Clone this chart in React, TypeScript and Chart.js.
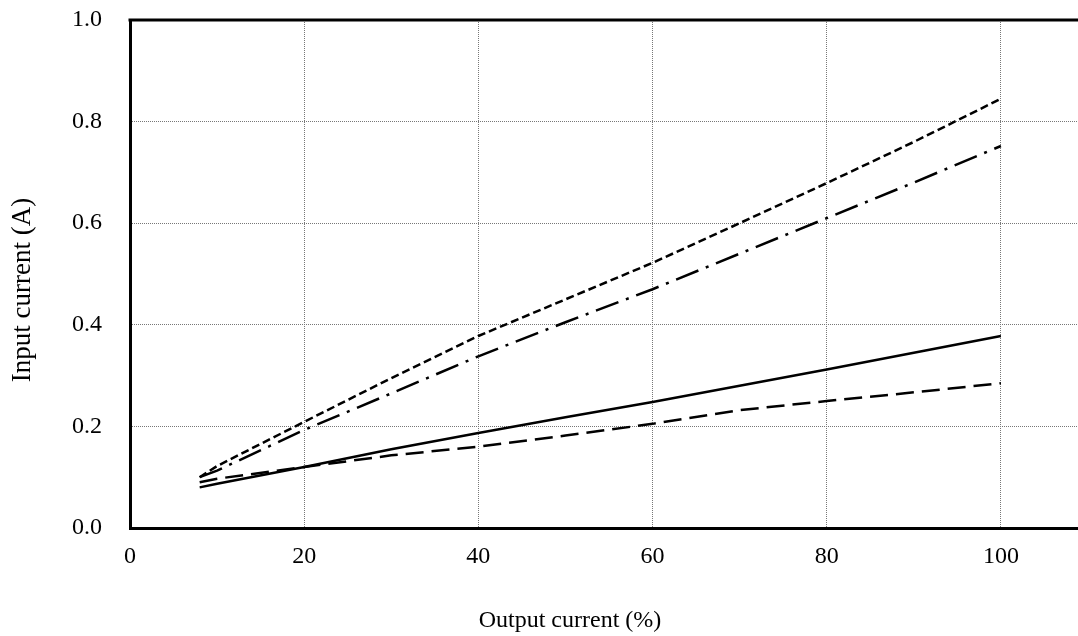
import React, { useEffect, useRef } from "react";
import { Chart, registerables } from "chart.js";

Chart.register(...registerables);

const xValues = [8, 10, 20, 30, 40, 50, 60, 70, 80, 90, 100];
const shortDashValues = [0.1, 0.122, 0.209, 0.295, 0.378, 0.45, 0.522, 0.6, 0.679, 0.76, 0.845];
const dashDotValues = [0.1, 0.113, 0.193, 0.265, 0.338, 0.405, 0.47, 0.54, 0.61, 0.68, 0.752];
const solidValues = [0.08, 0.087, 0.12, 0.155, 0.187, 0.218, 0.248, 0.28, 0.312, 0.345, 0.378];
const longDashValues = [0.09, 0.097, 0.12, 0.143, 0.16, 0.182, 0.205, 0.232, 0.25, 0.267, 0.285];

const xTitle = "Output current (%)";
const yTitle = "Input current (A)";

const FONT = '"Liberation Serif", "Times New Roman", serif';

const toPoints = (ys: number[]) => ys.map((y, i) => ({ x: xValues[i], y }));

const framePlugin = {
  id: "frame",
  afterDraw(chart: any) {
    const { ctx, chartArea } = chart;
    ctx.save();
    ctx.strokeStyle = "#000";
    ctx.lineWidth = 3;
    ctx.beginPath();
    ctx.moveTo(chartArea.left - 1.5, chartArea.top);
    ctx.lineTo(chartArea.right, chartArea.top);
    ctx.stroke();
    ctx.fillStyle = "#000";
    ctx.font = `24px ${FONT}`;
    ctx.textAlign = "center";
    ctx.textBaseline = "middle";
    ctx.fillText(xTitle, 570, 621);
    ctx.translate(23, 290);
    ctx.rotate(-Math.PI / 2);
    ctx.font = `27px ${FONT}`;
    ctx.fillText(yTitle, 0, 0);
    ctx.restore();
  },
};

export default function App() {
  const ref = useRef<HTMLCanvasElement | null>(null);

  useEffect(() => {
    if (!ref.current) return;
    const mk = (data: number[], dash: number[]) => ({
      data: toPoints(data),
      borderColor: "#000",
      backgroundColor: "#000",
      borderWidth: 2.5,
      borderDash: dash,
      pointRadius: 0,
      tension: 0,
      fill: false,
    });
    const chart = new Chart(ref.current, {
      type: "line",
      data: {
        datasets: [
          mk(shortDashValues, [8, 4]),
          mk(dashDotValues, [24, 8, 3, 8]),
          mk(solidValues, []),
          mk(longDashValues, [18, 8]),
        ],
      },
      options: {
        animation: false,
        responsive: true,
        maintainAspectRatio: false,
        layout: { padding: { top: 20, left: 0, right: 0, bottom: 0 } },
        plugins: { legend: { display: false }, tooltip: { enabled: false }, title: { display: false } },
        scales: {
          x: {
            type: "linear",
            min: 0,
            max: 110,
            afterBuildTicks: (s: any) => {
              s.ticks = s.ticks.filter((t: any) => t.value <= 100);
            },
            afterFit: (s: any) => {
              s.height = 108;
              s.paddingLeft = 0;
              s.paddingRight = 0;
            },
            ticks: {
              stepSize: 20,
              color: "#000",
              padding: 14,
              font: { family: FONT, size: 24 },
              maxRotation: 0,
            },
            grid: { color: "#777", lineWidth: 1, drawTicks: false, tickLength: 0 },
            border: { color: "#000", width: 3, dash: [1, 1] },
          },
          y: {
            type: "linear",
            min: 0,
            max: 1,
            afterFit: (s: any) => {
              s.width = 130;
              s.paddingTop = 0;
              s.paddingBottom = 0;
            },
            ticks: {
              stepSize: 0.2,
              color: "#000",
              padding: 28,
              font: { family: FONT, size: 24 },
              callback: (v: any) => Number(v).toFixed(1),
            },
            grid: { color: "#777", lineWidth: 1, drawTicks: false, tickLength: 0 },
            border: { color: "#000", width: 3, dash: [1, 1] },
          },
        },
      },
      plugins: [framePlugin],
    });
    return () => chart.destroy();
  }, []);

  return (
    <div style={{ position: "fixed", left: 0, top: 0, width: 1078, height: 636, overflow: "hidden", background: "#fff" }}>
      <div style={{ position: "absolute", left: 0, top: 0, width: 1088, height: 636 }}>
        <canvas ref={ref} />
      </div>
    </div>
  );
}
